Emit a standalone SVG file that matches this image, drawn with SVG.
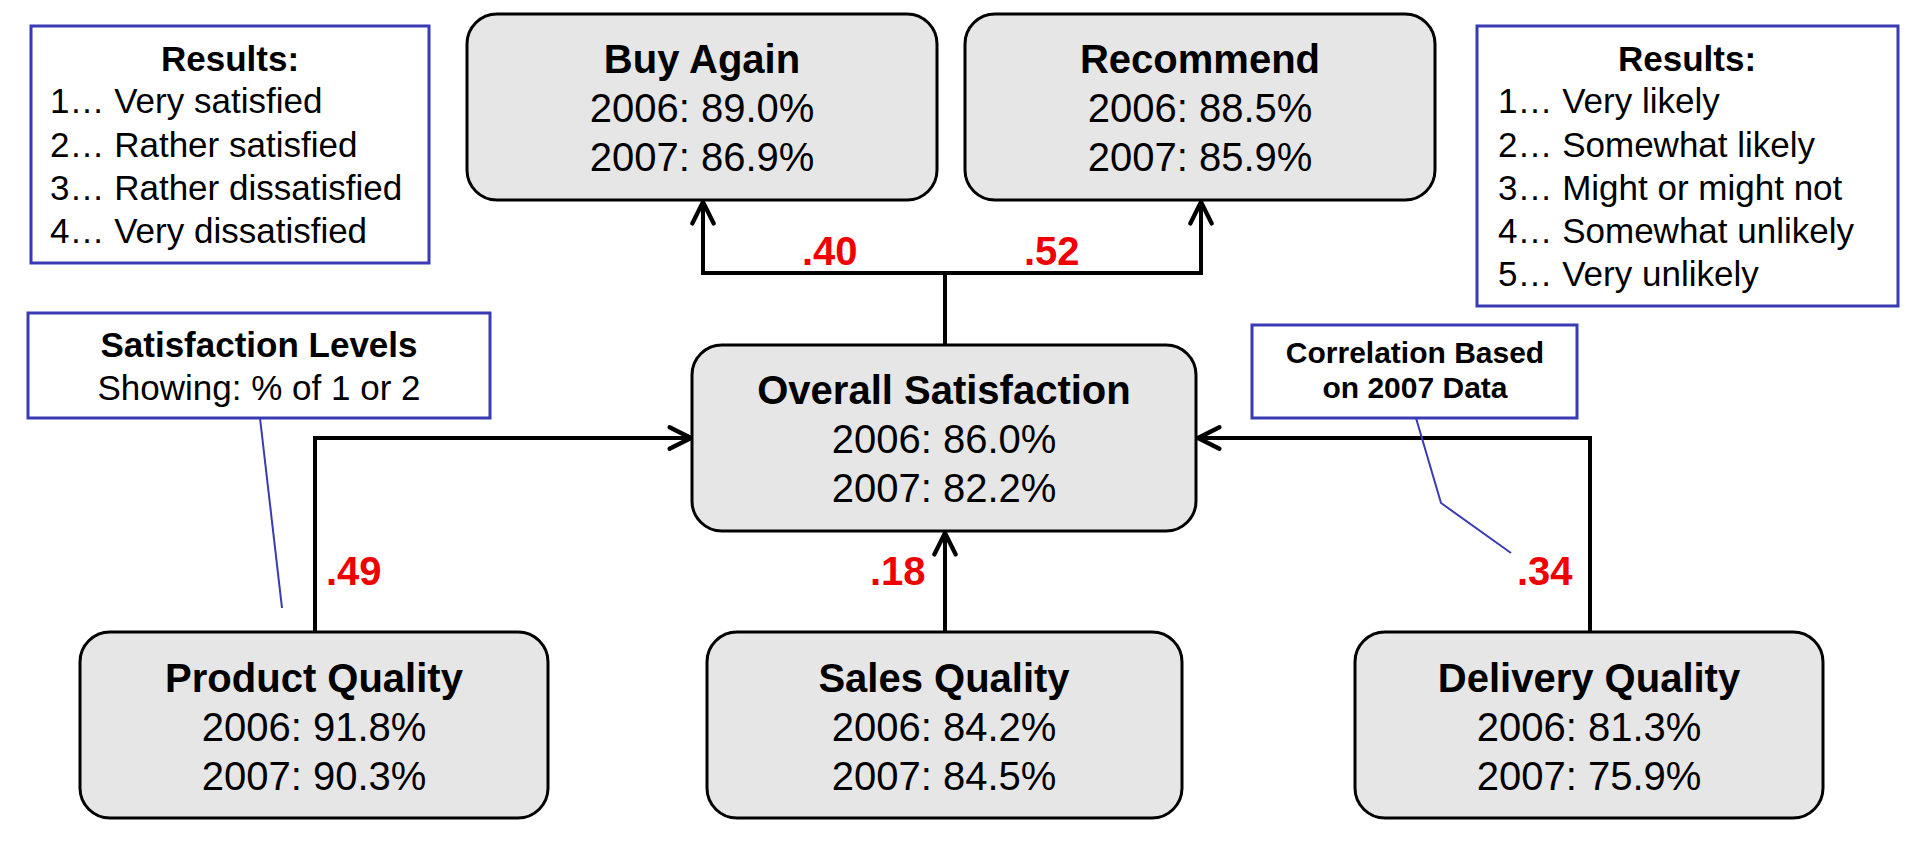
<svg xmlns="http://www.w3.org/2000/svg" width="1920" height="852" viewBox="0 0 1920 852">
<style>
  .node rect { fill: #E6E6E6; stroke: #000; stroke-width: 3; }
  .note rect { fill: #FFFFFF; stroke: #3A3AB4; stroke-width: 3; }
  .lead { fill: none; stroke: #3A3AB4; stroke-width: 2; }
  .t { font-family: "Liberation Sans", Arial, sans-serif; fill: #000; }
  .title { font-size: 40px; font-weight: bold; text-anchor: middle; }
  .val { font-size: 40px; text-anchor: middle; }
  .nh { font-size: 35px; font-weight: bold; text-anchor: middle; }
  .nl { font-size: 35px; }
  .nc { font-size: 35px; text-anchor: middle; }
  .ns { font-size: 30px; font-weight: bold; text-anchor: middle; }
  .corr { font-family: "Liberation Sans", Arial, sans-serif; font-size: 40px; font-weight: bold; fill: #F00000; }
  .conn { fill: none; stroke: #000; stroke-width: 4; }
</style>
<defs>
  <marker id="arr" markerUnits="userSpaceOnUse" markerWidth="30" markerHeight="30" viewBox="-24 -14 28 28" refX="0" refY="0" orient="auto">
    <path d="M -20 -10 L 0 0 L -20 10" fill="none" stroke="#000" stroke-width="4" stroke-linecap="round" stroke-linejoin="round"/>
  </marker>
</defs>
<rect width="1920" height="852" fill="#FFFFFF"/>

<g id="connectors">
  <path class="conn" d="M 945 345 L 945 273"/>
  <path class="conn" d="M 945 273 L 703 273 L 703 202" marker-end="url(#arr)"/>
  <path class="conn" d="M 945 273 L 1201 273 L 1201 202" marker-end="url(#arr)"/>
  <path class="conn" d="M 315 632 L 315 438 L 691 438" marker-end="url(#arr)"/>
  <path class="conn" d="M 945 632 L 945 533" marker-end="url(#arr)"/>
  <path class="conn" d="M 1590 632 L 1590 438 L 1198 438" marker-end="url(#arr)"/>
  <text class="corr" x="802" y="265">.40</text>
  <text class="corr" x="1024" y="265">.52</text>
  <text class="corr" x="326" y="585">.49</text>
  <text class="corr" x="870" y="585">.18</text>
  <text class="corr" x="1517" y="585">.34</text>
</g>

<g id="note-results-satisfaction" class="note">
  <rect x="31" y="26" width="398" height="237"/>
  <text class="t nh" x="230" y="71">Results:</text>
  <text class="t nl" x="50" y="113">1… Very satisfied</text>
  <text class="t nl" x="50" y="157">2… Rather satisfied</text>
  <text class="t nl" x="50" y="200">3… Rather dissatisfied</text>
  <text class="t nl" x="50" y="243">4… Very dissatisfied</text>
</g>

<g id="note-results-likely" class="note">
  <rect x="1477" y="26" width="421" height="280"/>
  <text class="t nh" x="1687" y="71">Results:</text>
  <text class="t nl" x="1498" y="113">1… Very likely</text>
  <text class="t nl" x="1498" y="157">2… Somewhat likely</text>
  <text class="t nl" x="1498" y="200">3… Might or might not</text>
  <text class="t nl" x="1498" y="243">4… Somewhat unlikely</text>
  <text class="t nl" x="1498" y="286">5… Very unlikely</text>
</g>

<g id="note-levels" class="note">
  <path class="lead" d="M 260 418 L 282 608"/>
  <rect x="28" y="313" width="462" height="105"/>
  <text class="t nh" x="259" y="357">Satisfaction Levels</text>
  <text class="t nc" x="259" y="400">Showing: % of 1 or 2</text>
</g>

<g id="note-correlation" class="note">
  <path class="lead" d="M 1416 418 L 1441 503 L 1511 553"/>
  <rect x="1252" y="325" width="325" height="93"/>
  <text class="t ns" x="1415" y="363">Correlation Based</text>
  <text class="t ns" x="1415" y="398">on 2007 Data</text>
</g>

<g id="node-buy-again" class="node">
  <rect x="467" y="14" width="470" height="186" rx="30" ry="30"/>
  <text class="t title" x="702" y="73">Buy Again</text>
  <text class="t val" x="702" y="122">2006: 89.0%</text>
  <text class="t val" x="702" y="171">2007: 86.9%</text>
</g>

<g id="node-recommend" class="node">
  <rect x="965" y="14" width="470" height="186" rx="30" ry="30"/>
  <text class="t title" x="1200" y="73">Recommend</text>
  <text class="t val" x="1200" y="122">2006: 88.5%</text>
  <text class="t val" x="1200" y="171">2007: 85.9%</text>
</g>

<g id="node-overall" class="node">
  <rect x="692" y="345" width="504" height="186" rx="30" ry="30"/>
  <text class="t title" x="944" y="404">Overall Satisfaction</text>
  <text class="t val" x="944" y="453">2006: 86.0%</text>
  <text class="t val" x="944" y="502">2007: 82.2%</text>
</g>

<g id="node-product" class="node">
  <rect x="80" y="632" width="468" height="186" rx="30" ry="30"/>
  <text class="t title" x="314" y="692">Product Quality</text>
  <text class="t val" x="314" y="741">2006: 91.8%</text>
  <text class="t val" x="314" y="790">2007: 90.3%</text>
</g>

<g id="node-sales" class="node">
  <rect x="707" y="632" width="475" height="186" rx="30" ry="30"/>
  <text class="t title" x="944" y="692">Sales Quality</text>
  <text class="t val" x="944" y="741">2006: 84.2%</text>
  <text class="t val" x="944" y="790">2007: 84.5%</text>
</g>

<g id="node-delivery" class="node">
  <rect x="1355" y="632" width="468" height="186" rx="30" ry="30"/>
  <text class="t title" x="1589" y="692">Delivery Quality</text>
  <text class="t val" x="1589" y="741">2006: 81.3%</text>
  <text class="t val" x="1589" y="790">2007: 75.9%</text>
</g>
</svg>
